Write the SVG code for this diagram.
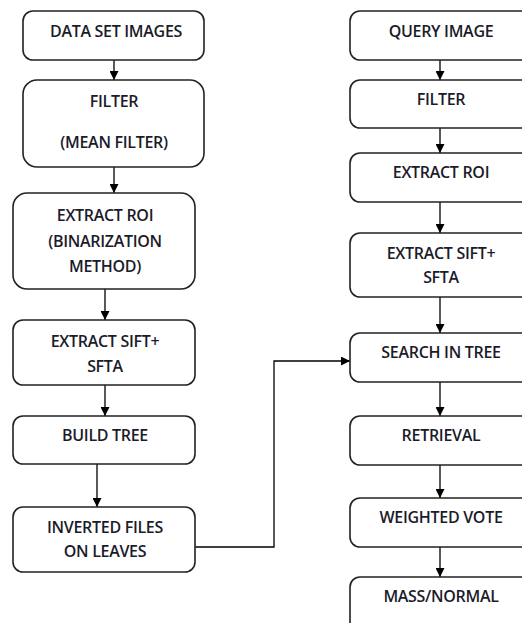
<svg xmlns="http://www.w3.org/2000/svg" width="522" height="623" viewBox="0 0 522 623">
<defs>
<marker id="ah" viewBox="0 0 10 10" refX="10" refY="5" markerWidth="9" markerHeight="9" markerUnits="userSpaceOnUse" orient="auto">
<path d="M0,0 L10,5 L0,10 z" fill="#000"/>
</marker>
<style>
rect.n{fill:#fff;stroke:#222;stroke-width:1.6}
text{font-family:"Open Sans","Liberation Sans",Arial,sans-serif;font-size:16px;font-weight:600;fill:#1b1b2a;text-anchor:middle;letter-spacing:-0.3px}
.c{fill:none;stroke:#000;stroke-width:1.3}
</style>
</defs>
<rect width="522" height="623" fill="#fff"/>
<g id="connectors">
<line class="c" x1="114" y1="60" x2="114" y2="80" marker-end="url(#ah)"/>
<line class="c" x1="114" y1="167" x2="114" y2="193" marker-end="url(#ah)"/>
<line class="c" x1="105" y1="289" x2="105" y2="320" marker-end="url(#ah)"/>
<line class="c" x1="105" y1="385" x2="105" y2="416" marker-end="url(#ah)"/>
<line class="c" x1="97" y1="464" x2="97" y2="507" marker-end="url(#ah)"/>
<polyline class="c" points="195,547 274,547 274,361 350,361" marker-end="url(#ah)"/>
<line class="c" x1="440" y1="60" x2="440" y2="80" marker-end="url(#ah)"/>
<line class="c" x1="440" y1="128" x2="440" y2="153" marker-end="url(#ah)"/>
<line class="c" x1="440" y1="202" x2="440" y2="233" marker-end="url(#ah)"/>
<line class="c" x1="440" y1="297" x2="440" y2="333" marker-end="url(#ah)"/>
<line class="c" x1="440" y1="382" x2="440" y2="416" marker-end="url(#ah)"/>
<line class="c" x1="440" y1="465" x2="440" y2="498" marker-end="url(#ah)"/>
<line class="c" x1="440" y1="547" x2="440" y2="577" marker-end="url(#ah)"/>
</g>
<g id="n1"><rect class="n" x="23" y="11" width="181" height="49" rx="10"/><text x="116" y="37">DATA SET IMAGES</text></g>
<g id="n2"><rect class="n" x="23" y="80" width="181" height="87" rx="14"/><text x="114" y="107">FILTER</text><text x="114" y="148">(MEAN FILTER)</text></g>
<g id="n3"><rect class="n" x="13" y="193" width="182" height="96" rx="14"/><text x="105" y="221">EXTRACT ROI</text><text x="105" y="247">(BINARIZATION</text><text x="105" y="272">METHOD)</text></g>
<g id="n4"><rect class="n" x="13" y="320" width="182" height="65" rx="10"/><text x="105" y="347">EXTRACT SIFT+</text><text x="105" y="372">SFTA</text></g>
<g id="n5"><rect class="n" x="13" y="416" width="182" height="48" rx="10"/><text x="105" y="441">BUILD TREE</text></g>
<g id="n6"><rect class="n" x="13" y="507" width="182" height="65" rx="10"/><text x="105" y="533">INVERTED FILES</text><text x="105" y="557">ON LEAVES</text></g>
<g id="m1"><rect class="n" x="350" y="11" width="182" height="49" rx="10"/><text x="441" y="37">QUERY IMAGE</text></g>
<g id="m2"><rect class="n" x="350" y="80" width="182" height="48" rx="10"/><text x="441" y="105">FILTER</text></g>
<g id="m3"><rect class="n" x="350" y="153" width="182" height="49" rx="10"/><text x="441" y="178">EXTRACT ROI</text></g>
<g id="m4"><rect class="n" x="350" y="233" width="182" height="64" rx="10"/><text x="441" y="259">EXTRACT SIFT+</text><text x="441" y="283">SFTA</text></g>
<g id="m5"><rect class="n" x="350" y="333" width="182" height="49" rx="10"/><text x="441" y="358">SEARCH IN TREE</text></g>
<g id="m6"><rect class="n" x="350" y="416" width="182" height="49" rx="10"/><text x="441" y="441">RETRIEVAL</text></g>
<g id="m7"><rect class="n" x="350" y="498" width="182" height="49" rx="10"/><text x="441" y="523">WEIGHTED VOTE</text></g>
<g id="m8"><rect class="n" x="350" y="577" width="182" height="60" rx="10"/><text x="441" y="602">MASS/NORMAL</text></g>
</svg>
